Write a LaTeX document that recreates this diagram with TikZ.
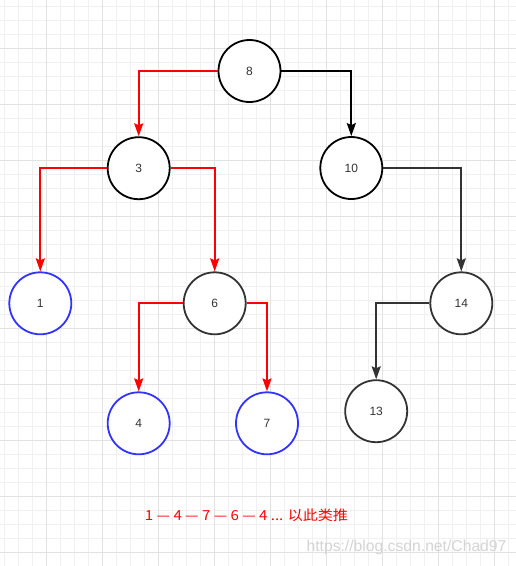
\documentclass[tikz,border=0pt]{standalone}
\usepackage{fontspec}
\setmainfont{Liberation Sans}
\newfontfamily\cjkfont{Noto Sans CJK SC}
\usetikzlibrary{arrows.meta}
\definecolor{gridlight}{HTML}{F0F0F0}
\definecolor{gridmajor}{HTML}{E2E2E2}
\definecolor{nodeblue}{HTML}{3333FF}
\definecolor{darkgraythree}{HTML}{333333}
\definecolor{wmgray}{HTML}{D4D4D4}
\begin{document}
\begin{tikzpicture}[x=1pt,y=-1pt,
  tnode/.style={circle,draw,line width=1.8pt,minimum size=62pt,inner sep=0pt,
    font=\fontsize{12}{14}\selectfont,text=darkgraythree,fill=white},
  blacknode/.style={tnode,draw=black},
  graynode/.style={tnode,draw=darkgraythree},
  bluenode/.style={tnode,draw=nodeblue},
  link/.style={line width=1.8pt,-{Stealth[length=13pt,width=9pt,inset=2pt]}},
  redlink/.style={link,draw=red},
  blacklink/.style={link,draw=black},
  graylink/.style={link,draw=darkgraythree},
  gridl/.style={draw=gridlight,line width=1pt},
  gridm/.style={draw=gridmajor,line width=1pt}]
\useasboundingbox[fill=white] (0,0) rectangle (516,566);
% grid
\foreach \k in {0,...,36} \draw[gridl] ({4.3+14*\k},0) -- ({4.3+14*\k},566);
\foreach \k in {0,...,39} \draw[gridl] (0,{6.5+14*\k}) -- (516,{6.5+14*\k});
\foreach \k in {0,...,8} \draw[gridm] ({46.3+56*\k},0) -- ({46.3+56*\k},566);
\foreach \k in {0,...,9} \draw[gridm] (0,{48.5+56*\k}) -- (516,{48.5+56*\k});
% nodes
\node[blacknode] (n8) at (249.5,71) {8};
\node[blacknode] (n3) at (138.7,168.2) {3};
\node[blacknode] (n10) at (351.3,168) {10};
\node[bluenode] (n1) at (40.3,303.3) {1};
\node[graynode] (n6) at (214.7,303.3) {6};
\node[graynode] (n14) at (461.3,303.3) {14};
\node[bluenode] (n4) at (138.7,423.3) {4};
\node[bluenode] (n7) at (267,423.3) {7};
\node[graynode] (n13) at (376.2,411.2) {13};
% edges
\draw[redlink] (n8.west) -| (n3.north);
\draw[blacklink] (n8.east) -| (n10.north);
\draw[redlink] (n3.west) -| (n1.north);
\draw[redlink] (n3.east) -| (n6.north);
\draw[graylink] (n10.east) -| (n14.north);
\draw[redlink] (n6.west) -| (n4.north);
\draw[redlink] (n6.east) -| (n7.north);
\draw[graylink] (n14.west) -| (n13.north);
% texts
\node[text=red,font=\cjkfont\fontsize{13.8}{16}\selectfont,inner sep=0pt] (caption) at (246.5,515) {\scalebox{1.09}[1]{1 — 4 — 7 — 6 — 4 ... 以此类推}};
\node[text=wmgray,font=\fontsize{15.7}{18}\selectfont,inner sep=0pt] (wm) at (406.5,547.7) {https://blog.csdn.net/Chad97};
\end{tikzpicture}
\end{document}
